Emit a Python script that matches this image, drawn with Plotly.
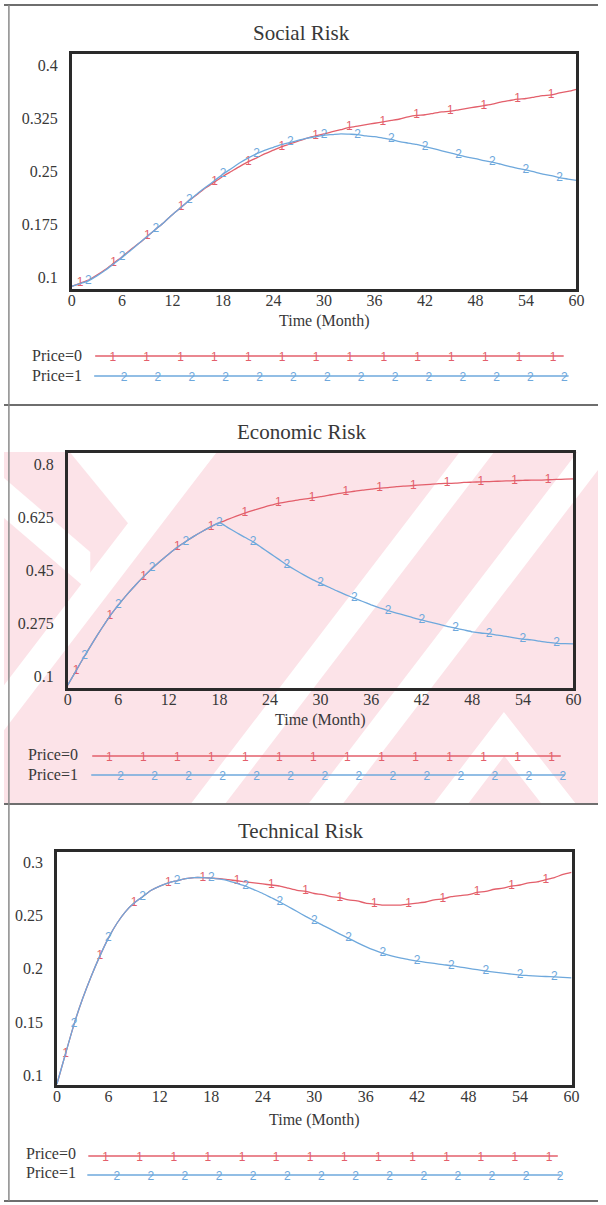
import plotly.graph_objects as go

W, H = 606, 1205

# ---------------- data ----------------
months = list(range(61))

social_price0 = [
    0.087, 0.0915, 0.096, 0.103, 0.111, 0.120, 0.129, 0.139, 0.148, 0.158,
    0.168, 0.178, 0.189, 0.199, 0.209, 0.218, 0.227, 0.235, 0.243, 0.250,
    0.257, 0.2636, 0.269, 0.275, 0.280, 0.285, 0.289, 0.293, 0.297, 0.300,
    0.303, 0.306, 0.309, 0.312, 0.314, 0.316, 0.318, 0.320, 0.322, 0.324,
    0.327, 0.329, 0.330, 0.332, 0.334, 0.335, 0.337, 0.339, 0.341, 0.343,
    0.345, 0.348, 0.350, 0.352, 0.353, 0.355, 0.357, 0.358, 0.361, 0.363,
    0.366,
]
social_price1 = [
    0.087, 0.091, 0.095, 0.102, 0.110, 0.119, 0.128, 0.138, 0.148, 0.158,
    0.168, 0.178, 0.189, 0.199, 0.209, 0.219, 0.228, 0.237, 0.246, 0.254,
    0.262, 0.269, 0.275, 0.280, 0.284, 0.288, 0.291, 0.294, 0.297, 0.299,
    0.301, 0.302, 0.303, 0.3025, 0.302, 0.300, 0.299, 0.297, 0.295, 0.292,
    0.290, 0.288, 0.285, 0.282, 0.279, 0.276, 0.273, 0.270, 0.268, 0.265,
    0.263, 0.260, 0.257, 0.254, 0.252, 0.249, 0.246, 0.244, 0.241, 0.239,
    0.237,
]
economic_price0 = [
    0.070, 0.118, 0.166, 0.212, 0.256, 0.298, 0.334, 0.368, 0.399, 0.428,
    0.455, 0.480, 0.503, 0.525, 0.544, 0.562, 0.578, 0.593, 0.606, 0.617,
    0.628, 0.638, 0.647, 0.655, 0.663, 0.670, 0.675, 0.680, 0.684, 0.688,
    0.692, 0.697, 0.702, 0.706, 0.710, 0.714, 0.717, 0.720, 0.722, 0.725,
    0.727, 0.729, 0.731, 0.733, 0.735, 0.736, 0.737, 0.739, 0.740, 0.741,
    0.742, 0.743, 0.744, 0.745, 0.746, 0.747, 0.747, 0.748, 0.749, 0.750,
    0.751,
]
economic_price1 = [
    0.070, 0.118, 0.166, 0.212, 0.256, 0.298, 0.334, 0.368, 0.399, 0.428,
    0.455, 0.480, 0.503, 0.525, 0.544, 0.562, 0.578, 0.593, 0.606, 0.590,
    0.574, 0.558, 0.543, 0.524, 0.505, 0.486, 0.467, 0.450, 0.434, 0.419,
    0.406, 0.393, 0.380, 0.368, 0.357, 0.346, 0.335, 0.325, 0.316, 0.308,
    0.300, 0.292, 0.285, 0.278, 0.271, 0.264, 0.258, 0.252, 0.246, 0.242,
    0.239, 0.235, 0.231, 0.226, 0.222, 0.219, 0.215, 0.211, 0.208, 0.207,
    0.206,
]
technical_price0 = [
    0.0915, 0.120, 0.148, 0.172, 0.193, 0.212, 0.229, 0.243, 0.254, 0.262,
    0.268, 0.274, 0.278, 0.281, 0.283, 0.285, 0.286, 0.286, 0.2855, 0.285,
    0.284, 0.283, 0.282, 0.281, 0.280, 0.279, 0.278, 0.276, 0.274, 0.273,
    0.271, 0.270, 0.268, 0.267, 0.265, 0.264, 0.262, 0.261, 0.260, 0.260,
    0.260, 0.261, 0.262, 0.263, 0.265, 0.266, 0.268, 0.269, 0.270, 0.272,
    0.273, 0.275, 0.276, 0.278, 0.279, 0.281, 0.282, 0.284, 0.286, 0.289,
    0.291,
]
technical_price1 = [
    0.0915, 0.120, 0.148, 0.172, 0.193, 0.212, 0.229, 0.243, 0.254, 0.262,
    0.268, 0.274, 0.278, 0.281, 0.283, 0.285, 0.286, 0.286, 0.2855, 0.2845,
    0.283, 0.2805, 0.278, 0.2745, 0.271, 0.267, 0.263, 0.2585, 0.254, 0.2495,
    0.2453, 0.241, 0.237, 0.2328, 0.2288, 0.2248, 0.221, 0.2176, 0.2146, 0.2122,
    0.2103, 0.2088, 0.2074, 0.2062, 0.2051, 0.204, 0.203, 0.2017, 0.2005, 0.1992,
    0.198, 0.197, 0.196, 0.195, 0.1942, 0.1937, 0.1932, 0.1928, 0.1924, 0.192,
    0.1916,
]

panel_titles = ["Social Risk", "Economic Risk", "Technical Risk"]
x_tickvals = [0, 6, 12, 18, 24, 30, 36, 42, 48, 54, 60]
y_tickvals = [
    [0.1, 0.175, 0.25, 0.325, 0.4],
    [0.1, 0.275, 0.45, 0.625, 0.8],
    [0.1, 0.15, 0.2, 0.25, 0.3],
]
y_ticktext = [
    ["0.1", "0.175", "0.25", "0.325", "0.4"],
    ["0.1", "0.275", "0.45", "0.625", "0.8"],
    ["0.1", "0.15", "0.2", "0.25", "0.3"],
]
series_names = ["Price=0", "Price=1"]
series_marks = ["1", "2"]
x_title = "Time (Month)"

# ---------------- styling / layout (pixels) ----------------
RED = "#e35f6b"
BLUE = "#6ea8dc"
TEXT = "#383838"
SERIF = "Liberation Serif"
SANS = "Liberation Sans"

panels = [
    dict(series=(social_price0, social_price1), box=(69, 54, 584, 289),
         yrange=(0.0834, 0.416), title_y=33, xtitle_y=321,
         leg_text_x=82, leg_y=(355, 375), leg_line_y=(356, 376),
         leg_red=(93, 571, 111), leg_blue=(92, 576, 122.5), leg_step=34.55),
    dict(series=(economic_price0, economic_price1), box=(65, 453, 581, 688),
         yrange=(0.0604, 0.8363), title_y=432, xtitle_y=720,
         leg_text_x=78, leg_y=(754, 774), leg_line_y=(756, 775),
         leg_red=(90, 568, 107.5), leg_blue=(89, 572, 119), leg_step=34.7),
    dict(series=(technical_price0, technical_price1), box=(54, 852, 579, 1085),
         yrange=(0.0906, 0.3101), title_y=831, xtitle_y=1120,
         leg_text_x=75, leg_y=(1153, 1172), leg_line_y=(1156, 1175),
         leg_red=(86, 565, 103.6), leg_blue=(85, 568, 115), leg_step=34.8),
]


def fx(px):
    return px / W


def fy(py):
    return 1 - py / H


def poly(pts):
    return "M " + " L ".join(f"{fx(x):.5f},{fy(y):.5f}" for x, y in pts) + " Z"


fig = go.Figure()
layout = dict(
    width=W, height=H, autosize=False,
    margin=dict(l=0, r=0, t=0, b=0, pad=0),
    paper_bgcolor="white", plot_bgcolor="rgba(0,0,0,0)",
    showlegend=False,
    annotations=[], shapes=[],
)

# background watermark band: pink field with white diagonal gaps
PINK = "rgb(252,227,232)"
layout["shapes"].append(dict(type="rect", xref="paper", yref="paper",
                             x0=0, x1=1, y0=fy(805), y1=fy(452),
                             fillcolor=PINK, line=dict(width=0), layer="below"))
SLOPE = 0.78   # horizontal run per pixel of drop for the "/" gaps
TOP, BOT = 452, 805
gaps = []
for a in [182, 465, 585]:
    d = SLOPE * (BOT - TOP)
    gaps.append([(a, TOP), (a + 35, TOP), (a + 35 - d, BOT), (a - d, BOT)])
gaps.append([(67, TOP), (217, TOP), (143, 543)])                       # V notch
gaps.append([(0, 478), (0, 518), (88, 592), (88, 552)])               # left arm
ax, ay = 510, 712                                                      # lower chevron
gaps.append([(ax - SLOPE * (BOT - ay), BOT), (ax, ay), (ax + 0.8 * (BOT - ay), BOT),
             (475 + 0.8 * (BOT - ay), BOT), (510.4, 756), (545 - SLOPE * (BOT - ay), BOT)])
for pts in gaps:
    layout["shapes"].append(dict(type="path", xref="paper", yref="paper", path=poly(pts),
                                 fillcolor="white", line=dict(width=0), layer="below"))

# frame lines between panels
for yy in [5, 405, 804, 1201]:
    layout["shapes"].append(dict(type="line", xref="paper", yref="paper",
                                 x0=0, x1=1, y0=fy(yy), y1=fy(yy),
                                 line=dict(color="#6e6e6e", width=2)))
layout["shapes"].append(dict(type="line", xref="paper", yref="paper",
                             x0=fx(5), x1=fx(5), y0=fy(5), y1=fy(1201),
                             line=dict(color="#8a8a8a", width=1.5)))

for i, p in enumerate(panels, start=1):
    xa, ya = f"x{i}", f"y{i}"
    l, t, r, b = p["box"]
    p0, p1 = p["series"]
    for vals, color, mark in ((p0, RED, "1"), (p1, BLUE, "2")):
        offset = 1 if mark == "1" else 2
        labels = [mark if (m % 4 == offset and m < 60) else "" for m in months]
        fig.add_trace(go.Scatter(
            x=months, y=vals, mode="lines+text", text=labels,
            textposition="middle center",
            textfont=dict(family=SANS, size=12, color=color),
            line=dict(color=color, width=1.3, shape="spline", smoothing=0.6),
            xaxis=xa, yaxis=ya, hoverinfo="skip", cliponaxis=False,
        ))
    axis_common = dict(showgrid=False, zeroline=False, showline=True, mirror=True,
                       linecolor="#2a2a2a", linewidth=2.5,
                       tickfont=dict(family=SERIF, size=16, color=TEXT),
                       ticks="")
    layout[f"xaxis{i}"] = dict(axis_common, domain=[fx(l), fx(r)], range=[0, 60],
                               tickvals=x_tickvals, ticklabelstandoff=-5, anchor=ya)
    layout[f"yaxis{i}"] = dict(axis_common, domain=[fy(b), fy(t)],
                               range=list(p["yrange"]), tickvals=y_tickvals[i - 1],
                               ticktext=y_ticktext[i - 1], ticklabelstandoff=8, anchor=xa)
    # panel title and axis title
    layout["annotations"].append(dict(text=panel_titles[i - 1], x=fx(303), y=fy(p["title_y"]),
                                      xref="paper", yref="paper", showarrow=False,
                                      xanchor="center", yanchor="middle",
                                      font=dict(family=SERIF, size=21, color=TEXT)))
    layout["annotations"].append(dict(text=x_title, x=fx((l + r) / 2), y=fy(p["xtitle_y"]),
                                      xref="paper", yref="paper", showarrow=False,
                                      xanchor="center", yanchor="middle",
                                      font=dict(family=SERIF, size=16, color=TEXT)))
    # legend block
    for k, (name, color, seg) in enumerate(((series_names[0], RED, p["leg_red"]),
                                            (series_names[1], BLUE, p["leg_blue"]))):
        layout["annotations"].append(dict(text=name, x=fx(p["leg_text_x"]), y=fy(p["leg_y"][k]),
                                          xref="paper", yref="paper", showarrow=False,
                                          xanchor="right", yanchor="middle",
                                          font=dict(family=SERIF, size=16, color=TEXT)))
        x0, x1, m0 = seg
        ly = p["leg_line_y"][k]
        fig.add_trace(go.Scatter(x=[x0, x1], y=[ly, ly], mode="lines",
                                 line=dict(color=color, width=1.3),
                                 xaxis="x4", yaxis="y4", hoverinfo="skip"))
        mx = [m0 + j * p["leg_step"] for j in range(14)]
        fig.add_trace(go.Scatter(x=mx, y=[ly + 2] * 14, mode="text", text=[series_marks[k]] * 14,
                                 textposition="middle center",
                                 textfont=dict(family=SANS, size=12, color=color),
                                 xaxis="x4", yaxis="y4", hoverinfo="skip"))

layout["xaxis4"] = dict(domain=[0, 1], range=[0, W], visible=False, anchor="y4")
layout["yaxis4"] = dict(domain=[0, 1], range=[H, 0], visible=False, anchor="x4")

fig.update_layout(**layout)
fig.write_html("out.html")
